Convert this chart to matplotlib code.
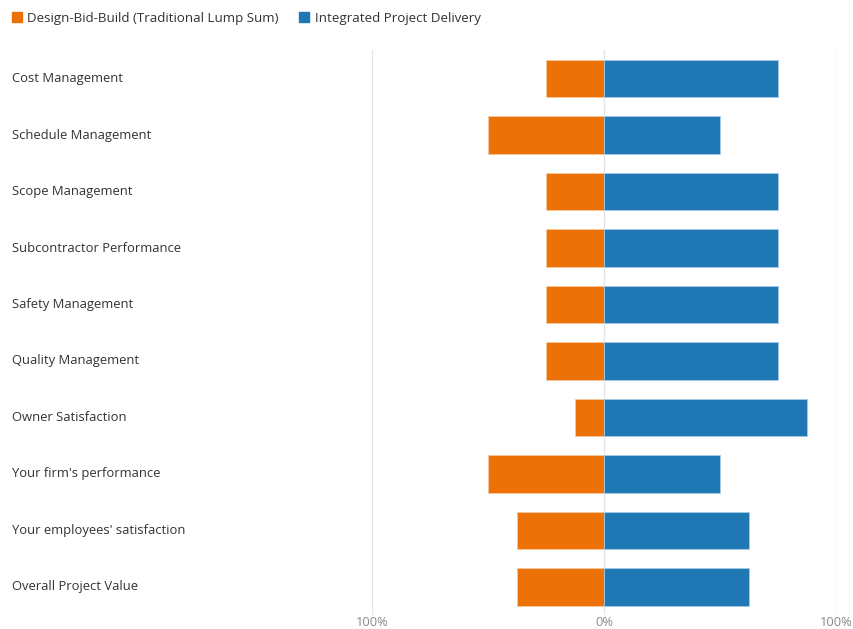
import matplotlib
matplotlib.use("Agg")
import matplotlib.pyplot as plt
from matplotlib.lines import Line2D
from matplotlib.transforms import blended_transform_factory

# Data for plotting
categories = ["Cost Management", "Schedule Management", "Scope Management",
              "Subcontractor Performance", "Safety Management", "Quality Management",
              "Owner Satisfaction", "Your firm's performance",
              "Your employees' satisfaction", "Overall Project Value"]
dbb = [25, 50, 25, 25, 25, 25, 12.5, 50, 37.5, 37.5]
ipd = [75, 50, 75, 75, 75, 75, 87.5, 50, 62.5, 62.5]
series_names = ["Design-Bid-Build (Traditional Lump Sum)", "Integrated Project Delivery"]
tick_vals = [-100, 0, 100]
tick_labels = ["100%", "0%", "100%"]

orange = "#ec7106"
blue = "#1f77b4"

plt.rcParams['font.family'] = ['Open Sans', 'DejaVu Sans']

fig = plt.figure(figsize=(8.54, 6.29), dpi=100)
ax = fig.add_axes([0.4356, 0.022, 0.5433, 0.898])

y = list(range(len(categories)))
ax.barh(y, [-v for v in dbb], height=0.67, color=orange, edgecolor="#f7c9a0", linewidth=0.6)
ax.barh(y, ipd, height=0.67, color=blue, edgecolor="#a9cbe6", linewidth=0.6)

ax.set_xlim(-100, 100)
ax.set_ylim(len(categories) - 0.5, -0.5)
ax.set_xticks(tick_vals)
ax.set_xticklabels(tick_labels, color="#8a8a8a", fontsize=9.3)
ax.set_yticks([])
for s in ax.spines.values():
    s.set_visible(False)
ax.grid(axis="x", color="#e6e6e6", linewidth=1)
ax.set_axisbelow(True)
ax.tick_params(axis="x", length=0, pad=0.5)

# category labels sit at the left edge of the figure
lab_tr = blended_transform_factory(fig.transFigure, ax.transData)
for i, c in enumerate(categories):
    ax.text(12 / 854, i, c, transform=lab_tr, fontsize=9.4,
            color="#333333", ha="left", va="center")

handles = [Line2D([], [], marker="s", linestyle="none", color=orange, markersize=6.5),
           Line2D([], [], marker="s", linestyle="none", color=blue, markersize=6.5)]
fig.legend(handles, series_names, loc="upper left", bbox_to_anchor=(0.0, 1.0), ncol=2,
           frameon=False, fontsize=9.6, handlelength=0.7, handletextpad=0.45,
           columnspacing=1.55, labelcolor="#333333")

fig.savefig("out.png", dpi=100)
